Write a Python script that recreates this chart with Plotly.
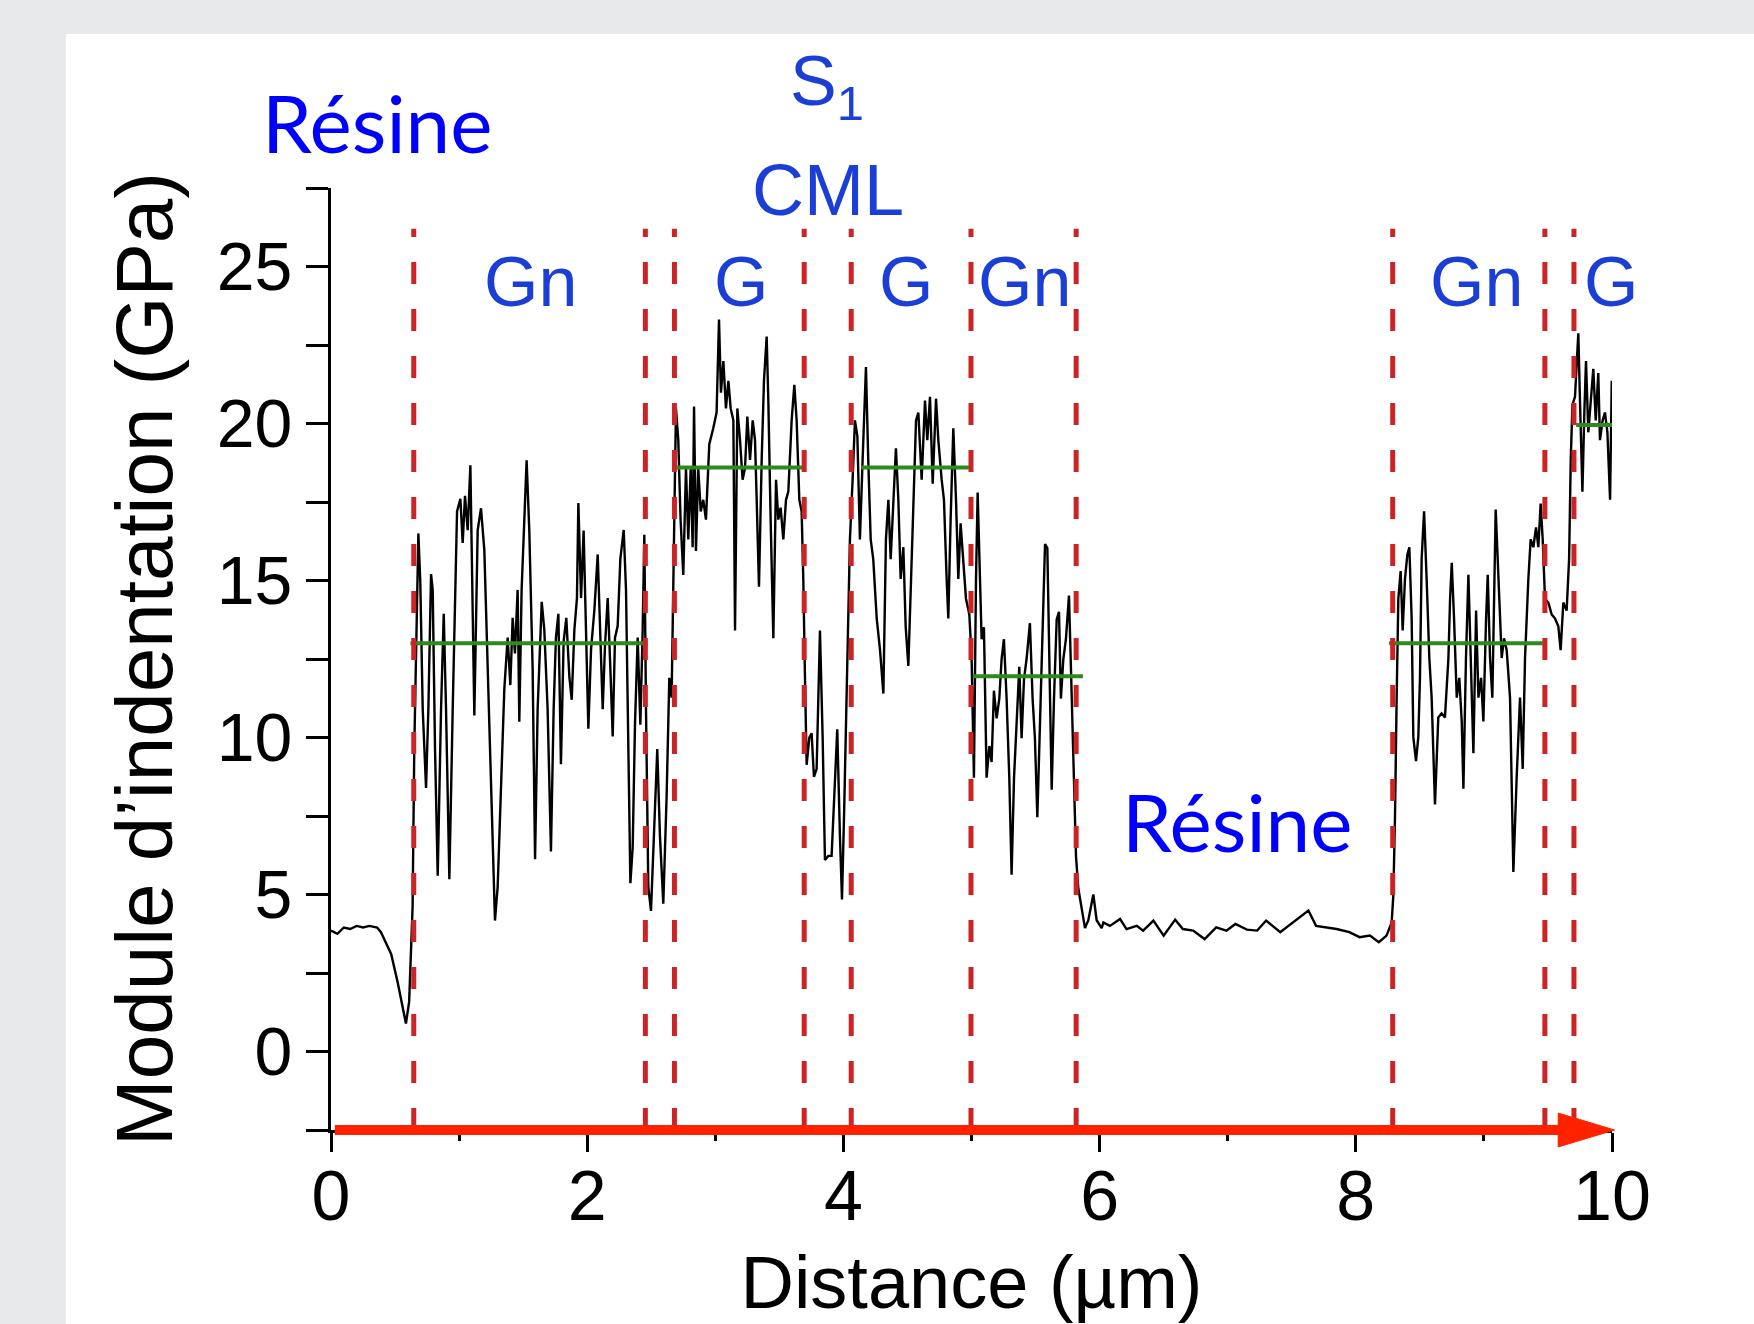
import plotly.graph_objects as go

# ---- profile data ----
distance_um = [
    0.00, 0.05, 0.10, 0.15, 0.20, 0.25, 0.30, 0.36, 0.39, 0.42, 0.47, 0.52, 0.56, 0.585, 0.61,
    0.637, 0.65, 0.671, 0.682, 0.697, 0.716, 0.742, 0.760, 0.781, 0.794, 0.812, 0.833, 0.859,
    0.880, 0.898, 0.924, 0.950, 0.984, 1.010, 1.028, 1.046, 1.067, 1.088, 1.106, 1.119, 1.145,
    1.171, 1.197, 1.223, 1.249, 1.280, 1.301, 1.327, 1.353, 1.379, 1.400, 1.418, 1.436, 1.457,
    1.470, 1.488, 1.509, 1.527, 1.548, 1.574, 1.593, 1.613, 1.645, 1.665, 1.691, 1.717, 1.738,
    1.756, 1.775, 1.795, 1.816, 1.837, 1.861, 1.879, 1.900, 1.920, 1.931, 1.952, 1.972, 1.991,
    2.009, 2.030, 2.056, 2.082, 2.103, 2.121, 2.139, 2.160, 2.181, 2.199, 2.217, 2.238, 2.259,
    2.285, 2.303, 2.321, 2.337, 2.355, 2.373, 2.394, 2.415, 2.433, 2.446, 2.459, 2.477, 2.498,
    2.516, 2.547, 2.568, 2.594, 2.620, 2.641, 2.659, 2.672, 2.693, 2.711, 2.729, 2.750, 2.771,
    2.789, 2.808, 2.823, 2.834, 2.849, 2.867, 2.886, 2.906, 2.927, 2.953, 2.984, 3.010, 3.029,
    3.044, 3.063, 3.083, 3.102, 3.120, 3.141, 3.154, 3.172, 3.193, 3.213, 3.232, 3.250, 3.271,
    3.292, 3.310, 3.323, 3.341, 3.362, 3.380, 3.401, 3.414, 3.432, 3.453, 3.474, 3.492, 3.510,
    3.531, 3.552, 3.570, 3.596, 3.617, 3.635, 3.656, 3.674, 3.687, 3.700, 3.713, 3.734, 3.752,
    3.770, 3.791, 3.817, 3.838, 3.856, 3.882, 3.908, 3.934, 3.952, 3.973, 3.989, 4.005, 4.025,
    4.051, 4.072, 4.090, 4.109, 4.129, 4.150, 4.176, 4.194, 4.213, 4.233, 4.260, 4.286, 4.312,
    4.332, 4.351, 4.369, 4.390, 4.410, 4.429, 4.447, 4.468, 4.486, 4.507, 4.525, 4.546, 4.567,
    4.585, 4.611, 4.637, 4.655, 4.676, 4.697, 4.723, 4.741, 4.767, 4.785, 4.806, 4.819, 4.837,
    4.858, 4.879, 4.897, 4.915, 4.936, 4.957, 4.983, 5.001, 5.019, 5.035, 5.048, 5.066, 5.079,
    5.097, 5.118, 5.139, 5.157, 5.175, 5.196, 5.217, 5.235, 5.253, 5.274, 5.295, 5.313, 5.332,
    5.352, 5.373, 5.391, 5.410, 5.430, 5.456, 5.477, 5.495, 5.514, 5.535, 5.555, 5.574, 5.592,
    5.607, 5.626, 5.644, 5.665, 5.683, 5.698, 5.717, 5.737, 5.761, 5.782, 5.800, 5.816, 5.834,
    5.860, 5.886, 5.912, 5.951, 5.977, 6.016, 6.03, 6.08, 6.16, 6.21, 6.29, 6.34, 6.42, 6.50,
    6.59, 6.65, 6.73, 6.82, 6.91, 6.99, 7.06, 7.15, 7.23, 7.30, 7.41, 7.51, 7.63, 7.69, 7.77,
    7.85, 7.95, 8.03, 8.11, 8.18, 8.24, 8.28, 8.293, 8.306, 8.319, 8.332, 8.350, 8.366, 8.384,
    8.402, 8.418, 8.436, 8.449, 8.470, 8.488, 8.501, 8.514, 8.533, 8.553, 8.574, 8.592, 8.618,
    8.644, 8.670, 8.696, 8.723, 8.736, 8.749, 8.767, 8.788, 8.808, 8.827, 8.840, 8.860, 8.879,
    8.897, 8.918, 8.939, 8.957, 8.978, 8.996, 9.017, 9.030, 9.048, 9.066, 9.092, 9.113, 9.139,
    9.157, 9.178, 9.204, 9.230, 9.256, 9.282, 9.303, 9.321, 9.347, 9.365, 9.386, 9.407, 9.425,
    9.443, 9.459, 9.477, 9.503, 9.529, 9.555, 9.581, 9.599, 9.620, 9.646, 9.665, 9.678, 9.691,
    9.711, 9.724, 9.737, 9.750, 9.769, 9.784, 9.797, 9.815, 9.834, 9.854, 9.873, 9.893, 9.906,
    9.927, 9.945, 9.964, 9.985, 9.998,
]
modulus_gpa = [
    3.85, 3.75, 3.95, 3.90, 4.00, 3.95, 4.00, 3.95, 3.80, 3.54, 3.10, 2.21, 1.46, 0.89, 1.58,
    4.61, 9.65, 14.7, 16.5, 14.95, 10.9, 8.39, 10.9, 15.2, 14.7, 9.65, 5.6, 10.9,
    13.94, 10.9, 5.49, 10.9, 17.2, 17.6, 16.2, 17.7, 16.6, 18.67, 13.4, 10.7, 16.6,
    17.3, 15.96, 12.2, 8.39, 4.17, 5.24, 8.39, 11.54, 13.18, 11.67, 13.81, 12.68, 14.7,
    10.5, 14.7, 17.22, 18.83, 16.59, 12.2, 6.12, 10.9, 14.32, 13.44, 10.9, 6.37, 10.9,
    13.18, 13.94, 9.15, 13.06, 13.81, 11.92, 11.2, 13.44, 14.44, 17.47, 14.44, 16.59, 13.44,
    10.28, 12.8, 14.06, 15.83, 13.44, 10.9, 12.93, 14.44, 12.17, 10.03, 13.18, 13.56, 15.7,
    16.61, 14.7, 9.02, 5.36, 6.5, 10.41, 13.18, 10.41, 13.44, 16.46, 10.9, 5.24, 4.48,
    6.23, 9.63, 6.86, 4.71, 8.12, 11.9, 11.27, 15.05, 20.48, 19.47, 16.94, 15.18, 18.58,
    16.31, 18.58, 16.06, 20.54, 15.94, 18.58, 17.2, 17.57, 16.94, 19.34, 19.85, 20.35, 23.31,
    20.98, 21.99, 20.48, 21.36, 20.48, 20.1, 13.41, 20.48, 19.47, 18.21, 18.58, 20.22, 18.84,
    20.1, 19.47, 17.57, 14.8, 18.84, 21.36, 22.77, 20.73, 16.94, 13.16, 18.21, 16.94, 17.32,
    16.31, 17.57, 17.83, 20.1, 21.23, 20.1, 17.57, 17.2, 15.05, 11.9, 9.13, 10.0, 10.13,
    8.75, 9.0, 13.41, 10.0, 6.1, 6.23, 6.23, 8.75, 10.26, 6.86, 4.84, 7.49, 11.27,
    16.31, 18.21, 20.1, 19.6, 16.31, 18.84, 21.8, 18.84, 16.31, 15.68, 13.79, 12.78, 11.4,
    16.31, 17.57, 15.68, 17.57, 19.21, 17.57, 15.05, 16.06, 13.54, 12.28, 14.42, 16.94, 20.1,
    20.35, 18.21, 20.73, 19.47, 20.85, 18.08, 20.79, 19.47, 18.21, 17.57, 15.05, 13.79, 16.94,
    19.85, 17.57, 15.05, 16.82, 15.68, 14.42, 13.92, 12.5, 8.72, 15.0, 17.8, 15.0, 13.13,
    13.51, 8.72, 9.73, 9.22, 11.49, 10.61, 11.24, 12.5, 13.13, 11.24, 8.72, 5.63, 8.72,
    10.61, 12.25, 9.98, 11.87, 12.5, 13.64, 11.24, 9.98, 7.46, 10.61, 13.76, 16.16, 16.03,
    12.5, 8.34, 11.24, 13.76, 14.0, 11.24, 12.5, 13.13, 14.52, 11.24, 8.72, 6.2, 5.19,
    4.56, 3.93, 4.18, 5.0, 4.18, 3.93, 4.11, 4.0, 4.22, 3.9, 4.0, 3.85, 4.17, 3.69,
    4.2, 3.9, 3.85, 3.58, 3.95, 3.85, 4.06, 3.88, 3.85, 4.17, 3.8, 4.11, 4.49, 4.0, 3.95,
    3.9, 3.8, 3.64, 3.69, 3.48, 3.69, 4.11, 4.97, 7.49, 11.27, 14.42, 15.3, 13.41, 15.05,
    15.81, 16.06, 13.79, 10.01, 9.25, 10.01, 11.9, 15.68, 17.2, 15.05, 12.53, 11.27, 7.87,
    10.64, 10.77, 10.64, 12.53, 14.42, 15.56, 13.79, 11.27, 11.9, 10.51, 8.37, 12.53, 15.18,
    12.53, 9.5, 14.04, 11.27, 11.9, 10.51, 13.79, 15.18, 12.53, 11.27, 17.26, 15.05, 12.53,
    13.16, 12.78, 11.27, 5.72, 8.75, 11.27, 9.0, 12.53, 15.05, 16.31, 16.06, 16.69, 16.06,
    17.45, 16.31, 14.42, 14.3, 13.92, 13.79, 13.54, 12.78, 14.3, 14.04, 15.68, 18.84, 20.6,
    20.85, 21.74, 22.87, 20.73, 17.83, 20.35, 21.99, 19.72, 20.73, 21.74, 20.1, 21.61, 19.47,
    20.1, 20.35, 19.72, 17.57, 21.36,
]

# zone boundaries (dashed red lines)
boundaries_um = [0.646, 2.454, 2.681, 3.694, 4.061, 4.996, 5.817, 8.288, 9.476, 9.703]

# mean modulus of each zone (green segments)
mean_start_um = [0.62, 2.70, 4.14, 5.01, 8.26, 9.72]
mean_end_um = [2.47, 3.68, 4.98, 5.87, 9.46, 10.17]
mean_value_gpa = [13.0, 18.6, 18.6, 11.95, 13.0, 19.95]

# zone labels
zone_labels = ["Gn", "G", "G", "Gn", "Gn", "G"]
zone_label_x = [1.555, 3.197, 4.49, 5.415, 8.943, 9.99]

x_range = [0, 10]
y_range = [-2.5, 27.5]
x_tick_vals = [0, 2, 4, 6, 8, 10]
y_tick_vals = [0, 5, 10, 15, 20, 25]
y_minor_vals = [-2.5, 2.5, 7.5, 12.5, 17.5, 22.5, 27.5]


def ypaper(v):
    return (v - y_range[0]) / (y_range[1] - y_range[0])


def xpaper(v):
    return (v - x_range[0]) / (x_range[1] - x_range[0])


fig = go.Figure()

# profile
fig.add_trace(go.Scatter(
    x=distance_um, y=modulus_gpa, mode="lines",
    line=dict(color="black", width=2.4), showlegend=False, hoverinfo="skip",
))

# green mean segments
gx, gy = [], []
for s, e, v in zip(mean_start_um, mean_end_um, mean_value_gpa):
    gx += [s, e, None]
    gy += [v, v, None]
fig.add_trace(go.Scatter(
    x=gx, y=gy, mode="lines", line=dict(color="#2e8a1c", width=4),
    showlegend=False, cliponaxis=False, hoverinfo="skip",
))

# dashed boundaries
for b in boundaries_um:
    fig.add_shape(type="line", xref="x", yref="y", x0=b, x1=b, y0=-2.5, y1=26.2,
                  line=dict(color="#cc2424", width=5, dash="22px,25px"), layer="above")

# white panel on grey page
fig.add_shape(type="rect", xref="paper", yref="paper", x0=-0.207, x1=1.3, y0=-0.5, y1=1.1635,
              fillcolor="white", line=dict(width=0), layer="below")

# red direction arrow along the x axis (shaft + head)
arrow_start = 0.03
arrow_tip = 10.02
head_len = 0.44
head_half = 0.018  # paper units
arrow_color = "#ff2200"
fig.add_shape(type="line", xref="paper", yref="paper",
              x0=xpaper(arrow_start), x1=xpaper(arrow_tip - head_len + 0.02),
              y0=ypaper(-2.5), y1=ypaper(-2.5),
              line=dict(color=arrow_color, width=10), layer="above")
hx0 = xpaper(arrow_tip - head_len)
hx1 = xpaper(arrow_tip)
hy = ypaper(-2.5)
fig.add_shape(type="path", xref="paper", yref="paper",
              path=f"M {hx0},{hy - head_half} L {hx1},{hy} L {hx0},{hy + head_half} Z",
              fillcolor=arrow_color, line=dict(color=arrow_color, width=1), layer="above")

label_font = dict(family="Liberation Sans, Arial, sans-serif", size=70, color="#1a3ed6")
for t, xv in zip(zone_labels, zone_label_x):
    fig.add_annotation(x=xv, y=24.5, xref="x", yref="y", text=t, showarrow=False,
                       font=label_font, xanchor="center", yanchor="middle")

fig.add_annotation(x=3.878, y=27.45, xref="x", yref="y", text="CML", showarrow=False,
                   font=dict(label_font, size=72), xanchor="center", yanchor="middle")
fig.add_annotation(x=xpaper(3.87), y=ypaper(30.75), xref="paper", yref="paper",
                   text="S<sub>1</sub>", showarrow=False,
                   font=label_font, xanchor="center", yanchor="middle")

resine_font = dict(family="Lato, Open Sans, sans-serif", size=80, color="#0000ff")
fig.add_annotation(x=xpaper(0.36), y=ypaper(29.6), xref="paper", yref="paper", text="Résine",
                   showarrow=False, font=resine_font, xanchor="center", yanchor="middle")
fig.add_annotation(x=7.07, y=7.35, xref="x", yref="y", text="Résine", showarrow=False,
                   font=resine_font, xanchor="center", yanchor="middle")

tick_family = "Liberation Sans, Arial, sans-serif"

fig.update_xaxes(
    range=x_range, showgrid=False, zeroline=False,
    showline=True, linecolor="black", linewidth=3,
    ticks="outside", ticklen=19, tickwidth=3, tickcolor="black",
    tickvals=x_tick_vals, tickfont=dict(family=tick_family, size=70, color="black"),
    ticklabelstandoff=-16,
    minor=dict(dtick=1, tick0=0, ticks="outside", ticklen=8, tickwidth=3, tickcolor="black"),
    title=dict(text="Distance (µm)", font=dict(family=tick_family, size=74, color="black"),
               standoff=28),
)
fig.update_yaxes(
    range=y_range, showgrid=False, zeroline=False,
    showline=True, linecolor="black", linewidth=3,
    ticks="outside", ticklen=22, tickwidth=3, tickcolor="black",
    tickvals=y_tick_vals,
    tickfont=dict(family=tick_family, size=68, color="black"),
    minor=dict(tickvals=y_minor_vals, ticks="outside", ticklen=22, tickwidth=3, tickcolor="black"),
    title=dict(text="Module d’indentation (GPa)",
               font=dict(family=tick_family, size=80, color="black"), standoff=18),
)

fig.update_layout(
    width=1754, height=1324,
    margin=dict(l=331, r=142, t=188, b=194, autoexpand=False),
    paper_bgcolor="#e8e9eb", plot_bgcolor="white",
    showlegend=False,
)

fig.write_html("out.html", config={"displayModeBar": False},
               post_script="document.body.style.margin='0px';")
